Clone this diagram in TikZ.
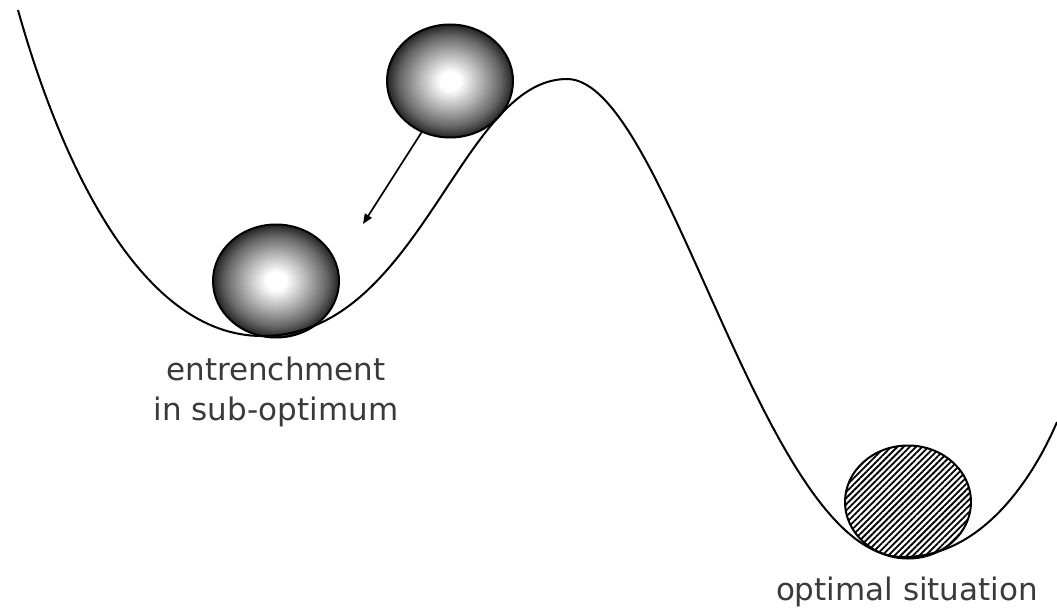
\documentclass[tikz,border=0pt]{standalone}
\usepackage{fontspec}
\setmainfont{DejaVu Sans}
\usetikzlibrary{arrows.meta,shapes.geometric,patterns.meta}
\definecolor{txtgray}{HTML}{3A3A3A}
\pgfdeclareradialshading{glossball}{\pgfpoint{0bp}{0bp}}{%
  color(0bp)=(white); color(4bp)=(white); color(13bp)=(black!33);
  color(20bp)=(black!60); color(25bp)=(black!86); color(50bp)=(black!86)}
\tikzset{
  ballshape/.style={ellipse, draw=black, line width=2pt, minimum width=126pt, minimum height=113pt, inner sep=0pt},
  glossy/.style={ballshape, shading=glossball},
  hatched/.style={ballshape, pattern={Lines[angle=45,distance=4.4pt,line width=1.8pt]}},
  landscape/.style={line width=2pt, black},
  lbl/.style={text=txtgray, font=\fontsize{31pt}{40pt}\selectfont, align=center, inner sep=0pt},
  fallarrow/.style={line width=1.7pt, -{Triangle[length=10pt,width=8pt]}}
}
\begin{document}
\begin{tikzpicture}[x=1pt,y=-1pt]
\useasboundingbox (0,0) rectangle (1057,610);
\node[glossy] (topball) at (450,81) {};
\node[glossy] (lowball) at (276,281) {};
\node[hatched] (optball) at (908,502) {};
\coordinate (startpt) at (18,10);
\coordinate (leftmin) at (262,336);
\coordinate (peak) at (567,79);
\coordinate (rightmin) at (903,557);
\coordinate (endpt) at (1057,422);
\draw[landscape] (startpt)
  .. controls (60,160) and (140,336) .. (leftmin)
  .. controls (420,336) and (460,79) .. (peak)
  .. controls (667,79) and (763,557) .. (rightmin)
  .. controls (1000,557) and (1050,438) .. (endpt);
\coordinate (fallend) at (363,224);
\draw[fallarrow] (topball.241) -- (fallend);
\node[lbl, anchor=north] (sublbl) at (276,357) {entrenchment\\in sub-optimum};
\node[lbl, anchor=base] (optlbl) at (907,600) {optimal situation};
\end{tikzpicture}
\end{document}
